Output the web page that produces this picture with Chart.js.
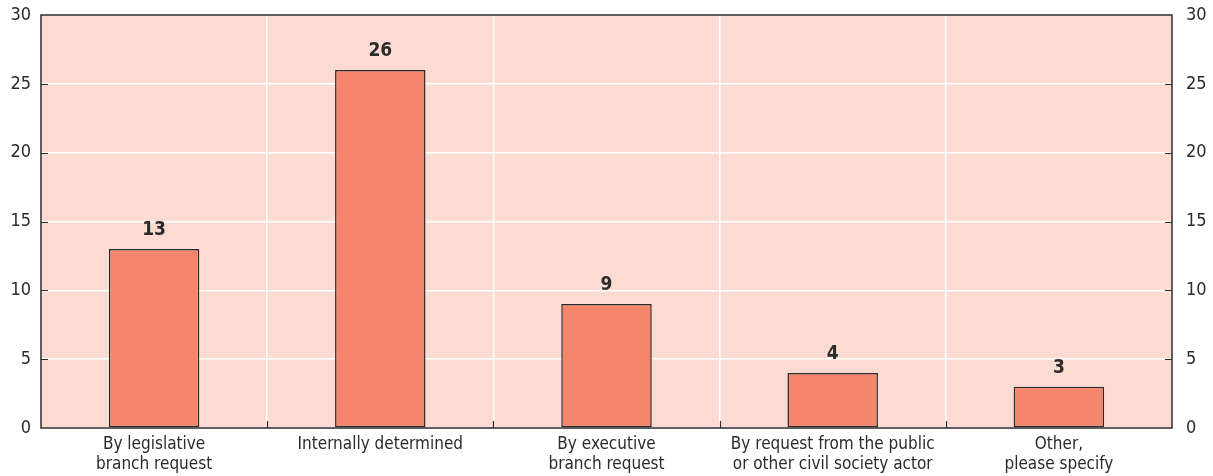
<!DOCTYPE html>
<html>
<head>
<meta charset="utf-8">
<script src="https://cdn.jsdelivr.net/npm/chart.js@4"></script>
<style>
  html, body { margin: 0; padding: 0; background: #fff; }
  #wrap { width: 1213px; height: 476px; }
</style>
</head>
<body>
<div id="wrap"><canvas id="chart" width="1213" height="476"></canvas></div>
<script>
const categories = [
  ['By legislative', 'branch request'],
  'Internally determined',
  ['By executive', 'branch request'],
  ['By request from the public', 'or other civil society actor'],
  ['Other,', 'please specify']
];
const counts = [13, 26, 9, 4, 3];
const yTicks = [0, 5, 10, 15, 20, 25, 30];

const FONT = '"Liberation Sans Narrow", "DejaVu Sans Condensed", "Arial Narrow", sans-serif';
const INK = '#2b2b2b';

// plot background, frame, inward tick marks and value labels
const decor = {
  id: 'decor',
  beforeDraw(chart) {
    const { ctx, chartArea: a } = chart;
    ctx.save();
    ctx.fillStyle = '#fcdcd2';
    ctx.fillRect(a.left, a.top, a.right - a.left, a.bottom - a.top);
    ctx.restore();
  },
  afterDatasetsDraw(chart) {
    const { ctx, chartArea: a, scales } = chart;
    ctx.save();
    ctx.strokeStyle = INK;
    ctx.lineWidth = 1.5;
    ctx.strokeRect(a.left, a.top, a.right - a.left, a.bottom - a.top);

    ctx.lineWidth = 1.2;
    ctx.beginPath();
    yTicks.forEach(v => {
      if (v === 0 || v === 30) return;
      const y = Math.round(scales.y.getPixelForValue(v)) + 0.5;
      ctx.moveTo(a.left, y); ctx.lineTo(a.left + 7, y);
      ctx.moveTo(a.right - 7, y); ctx.lineTo(a.right, y);
    });
    const step = (a.right - a.left) / categories.length;
    for (let i = 1; i < categories.length; i++) {
      const x = Math.round(a.left + step * i) + 0.5;
      ctx.moveTo(x, a.bottom); ctx.lineTo(x, a.bottom - 7);
    }
    ctx.stroke();

    const meta = chart.getDatasetMeta(0);
    ctx.fillStyle = INK;
    ctx.font = 'bold 19px ' + FONT;
    ctx.textAlign = 'center';
    ctx.textBaseline = 'alphabetic';
    meta.data.forEach((bar, i) => {
      ctx.fillText(String(counts[i]), bar.x, bar.y - 14);
    });
    ctx.restore();
  }
};

// fixed side axis width, no extra room reserved for the end labels
function fitSide(s) {
  s.width = 41;
  s.paddingTop = 0;
  s.paddingBottom = 0;
}

new Chart(document.getElementById('chart'), {
  type: 'bar',
  data: {
    labels: categories,
    datasets: [{
      data: counts,
      backgroundColor: '#f5866e',
      borderColor: INK,
      borderWidth: 1.5,
      borderSkipped: false,
      barPercentage: 0.4,
      categoryPercentage: 1
    }]
  },
  options: {
    responsive: false,
    animation: false,
    layout: { padding: { top: 15, bottom: 0, left: 0, right: 0 } },
    plugins: { legend: { display: false }, tooltip: { enabled: false } },
    scales: {
      x: {
        offset: true,
        grid: { color: '#ffffff', lineWidth: 1.5, drawTicks: false, offset: true },
        border: { display: false },
        ticks: {
          color: INK,
          font: { family: FONT, size: 17 },
          padding: 6,
          maxRotation: 0,
          autoSkip: false
        },
        afterFit(s) { s.height = 48; }
      },
      y: {
        min: 0, max: 30,
        ticks: {
          stepSize: 5,
          color: INK,
          font: { family: FONT, size: 18 },
          padding: 10
        },
        grid: { color: '#ffffff', lineWidth: 1.5, drawTicks: false },
        border: { display: false },
        afterFit: fitSide
      },
      y2: {
        position: 'right',
        min: 0, max: 30,
        ticks: {
          stepSize: 5,
          color: INK,
          font: { family: FONT, size: 18 },
          padding: 14
        },
        grid: { display: false, drawTicks: false },
        border: { display: false },
        afterFit: fitSide
      }
    }
  },
  plugins: [decor]
});
</script>
</body>
</html>
